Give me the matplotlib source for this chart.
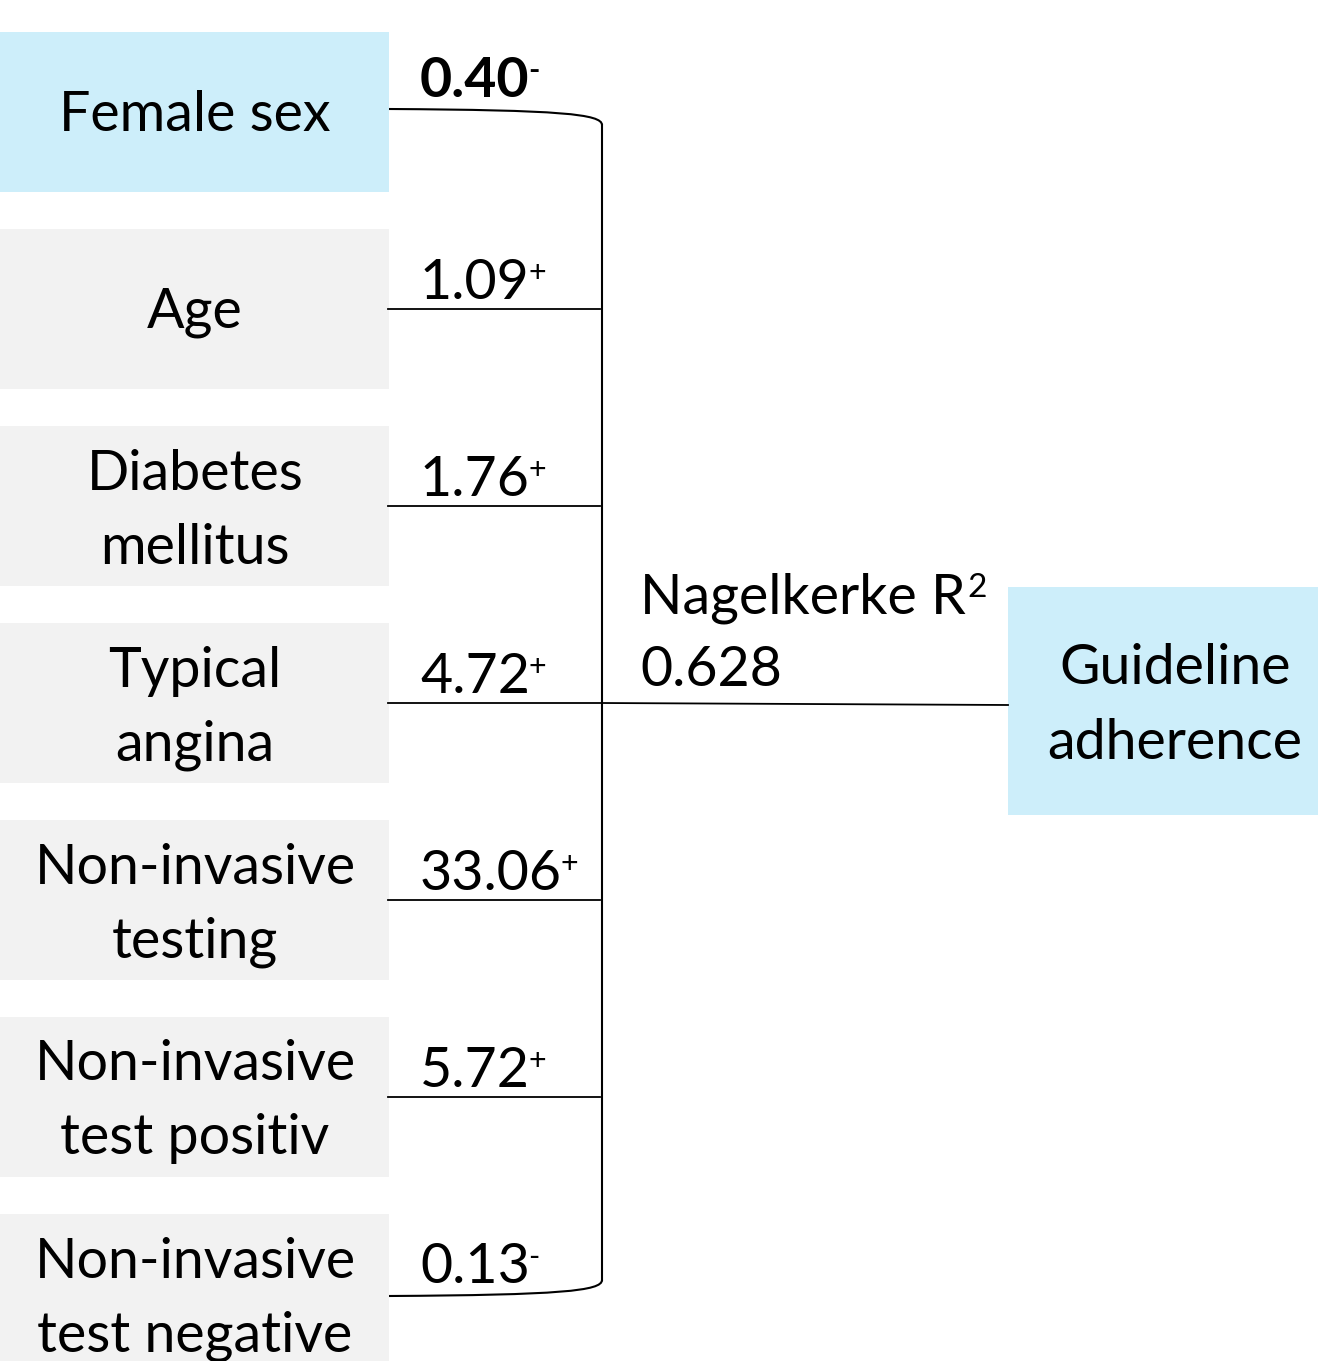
import matplotlib
matplotlib.use("Agg")
import matplotlib.pyplot as plt
from matplotlib.patches import Rectangle, PathPatch
from matplotlib.path import Path

# ---- data ----
predictors = ["Female sex", "Age", "Diabetes\nmellitus", "Typical\nangina",
              "Non-invasive\ntesting", "Non-invasive\ntest positiv", "Non-invasive\ntest negative"]
odds_ratios = ["0.40", "1.09", "1.76", "4.72", "33.06", "5.72", "0.13"]
signs = ["-", "+", "+", "+", "+", "+", "-"]
highlighted = [True, False, False, False, False, False, False]
outcome = "Guideline\nadherence"
r2_label = "Nagelkerke R"
r2_value = "0.628"

W, H = 1318, 1361
fig = plt.figure(figsize=(W / 100, H / 100), dpi=100)
ax = fig.add_axes([0, 0, 1, 1])
ax.set_xlim(0, W)
ax.set_ylim(H, 0)
ax.axis("off")

FONT = "Lato"
FS = 40
BLUE = "#CDEEFA"
GRAY = "#F2F2F2"

box_top0, box_h, step = 32, 160, 197
box_w = 389
spine_x = 602
line_end_x = 600

n = len(predictors)
centers = []
for i, (lab, orv, sg, hl) in enumerate(zip(predictors, odds_ratios, signs, highlighted)):
    top = box_top0 + i * step
    cy = top + box_h / 2
    centers.append(cy)
    ax.add_patch(Rectangle((0, top), box_w, box_h, facecolor=BLUE if hl else GRAY,
                           edgecolor="none", zorder=1))
    lines = lab.split("\n")
    if len(lines) == 1:
        ax.text(195, cy + 3, lines[0], ha="center", va="center", fontsize=FS,
                family=FONT, zorder=3)
    else:
        ax.text(195, cy - 32, lines[0], ha="center", va="center", fontsize=FS,
                family=FONT, zorder=3)
        ax.text(195, cy + 42, lines[1], ha="center", va="center", fontsize=FS,
                family=FONT, zorder=3)
    if i == 0:
        base = cy - 15
    elif i == n - 1:
        base = cy - 11
    else:
        base = cy - 10
    t = ax.text(420, base, orv, ha="left", va="baseline",
                fontsize=FS, family=FONT,
                fontweight="bold" if hl else "normal", zorder=3)
    ax.annotate(sg, xy=(1, 1), xycoords=t, xytext=(-1, -1), textcoords="offset points",
                ha="left", va="top", fontsize=FS * 0.55, family=FONT,
                fontweight="bold" if hl else "normal")

# connector lines
top_y = centers[0] - 3
bot_y = centers[-1] + 2
for i, cy in enumerate(centers):
    if i == 0 or i == n - 1:
        continue
    end = spine_x if i == 3 else line_end_x
    ax.plot([box_w - 1, end], [cy, cy], color="black", lw=1.3, zorder=2)

# curved top and bottom
verts = [(box_w, top_y), (560, top_y + 1), (spine_x, top_y + 5), (spine_x, top_y + 16)]
ax.add_patch(PathPatch(Path(verts, [Path.MOVETO, Path.CURVE4, Path.CURVE4, Path.CURVE4]),
                       facecolor="none", edgecolor="black", lw=1.5, zorder=2))
verts = [(box_w, bot_y), (560, bot_y - 1), (spine_x, bot_y - 5), (spine_x, bot_y - 16)]
ax.add_patch(PathPatch(Path(verts, [Path.MOVETO, Path.CURVE4, Path.CURVE4, Path.CURVE4]),
                       facecolor="none", edgecolor="black", lw=1.5, zorder=2))
ax.plot([spine_x, spine_x], [top_y + 16, bot_y - 16], color="black", lw=1.5, zorder=2)

# line to outcome
mid_y = centers[3]
ax.plot([spine_x, 1008], [mid_y, mid_y + 2], color="black", lw=1.3, zorder=2)

# outcome box
ax.add_patch(Rectangle((1008, 587), W - 1008, 228, facecolor=BLUE, edgecolor="none", zorder=1))
o1, o2 = outcome.split("\n")
ax.text(1175, 668, o1, ha="center", va="center", fontsize=FS, family=FONT, zorder=3)
ax.text(1175, 743, o2, ha="center", va="center", fontsize=FS, family=FONT, zorder=3)

# R2 text
tr = ax.text(640, 613, r2_label, ha="left", va="baseline", fontsize=FS, family=FONT)
ax.annotate("2", xy=(1, 1), xycoords=tr, xytext=(1, -1), textcoords="offset points",
            ha="left", va="top", fontsize=FS * 0.6, family=FONT)
ax.text(640, 686, r2_value, ha="left", va="baseline", fontsize=FS, family=FONT)

fig.savefig("out.png", dpi=100, facecolor="white")
